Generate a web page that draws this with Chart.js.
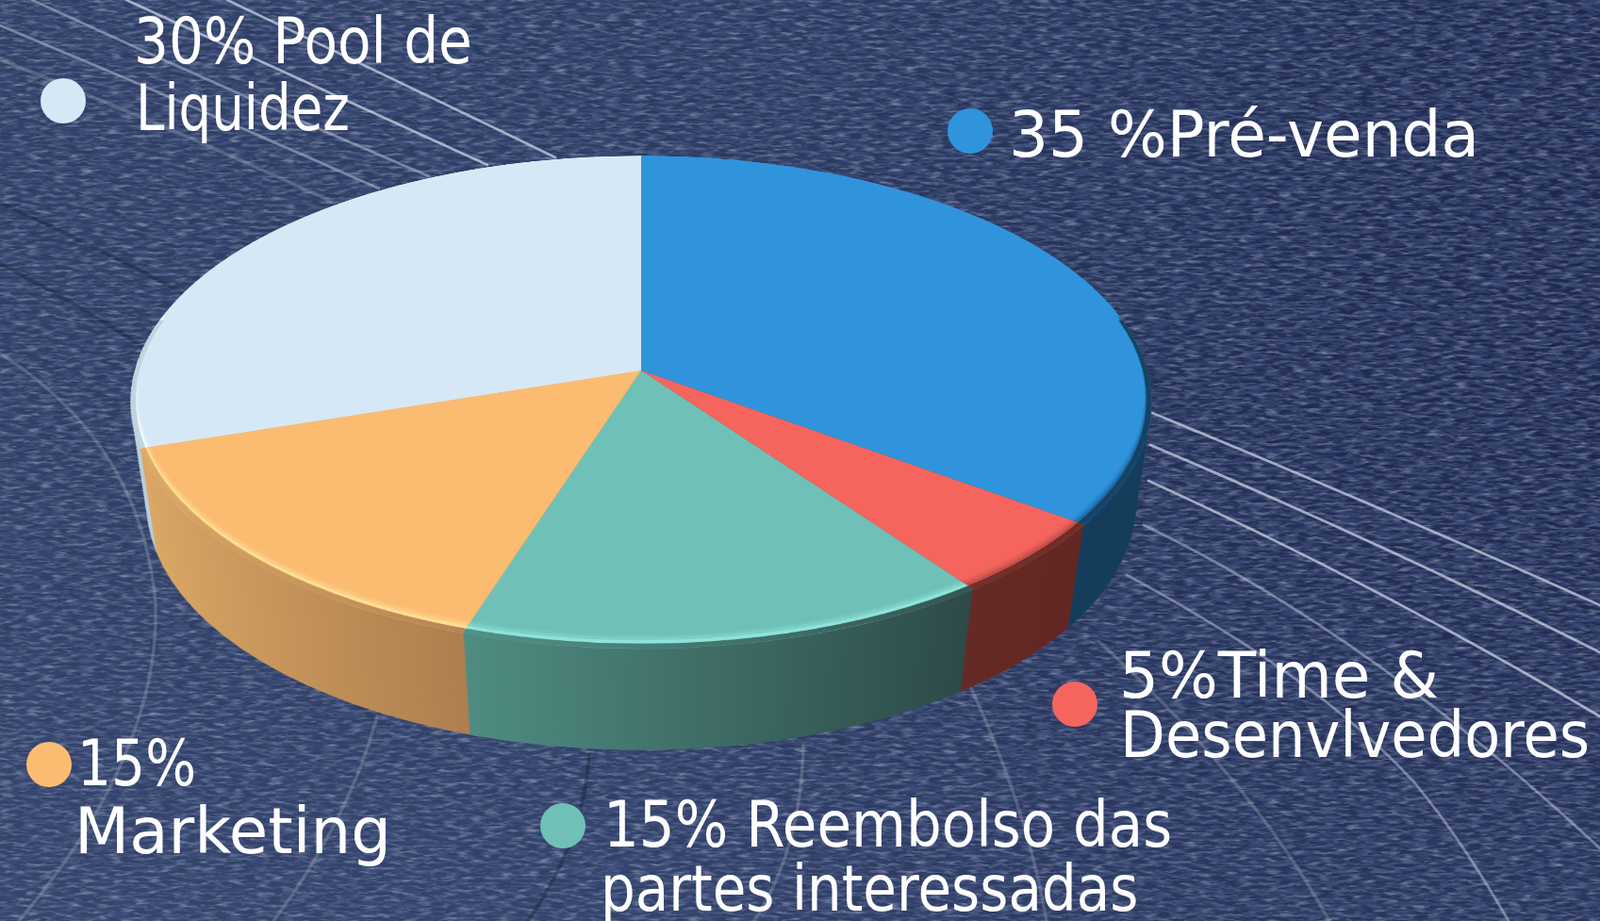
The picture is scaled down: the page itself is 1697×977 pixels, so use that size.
<!DOCTYPE html>
<html lang="pt">
<head>
<meta charset="utf-8">
<title>Tokenomics</title>
<script src="https://cdn.jsdelivr.net/npm/chart.js@4"></script>
<style>
html,body{margin:0;padding:0;width:1697px;height:977px;overflow:hidden;background:#2b3a63}
#stage{position:relative;width:1697px;height:977px;overflow:hidden;
 background:linear-gradient(100deg,#2f3e64 0%,#2b3960 45%,#1f2a50 80%,#1c264c 100%)}
#stage:before{content:"";position:absolute;inset:0;background:linear-gradient(180deg,rgba(0,0,0,0) 45%,rgba(70,88,130,.25) 100%)}
svg{position:absolute;left:0;top:0}
#pie{position:absolute;left:-70px;top:-357px;width:1500px;height:1500px;transform-origin:50% 50%;
 transform:perspective(3661px) rotateX(61.4deg)}
.t{position:absolute;white-space:pre;color:#fff;font-family:"DejaVu Sans",sans-serif;transform-origin:0 0}
.d{position:absolute;border-radius:50%}
</style>
</head>
<body>
<div id="stage">
<svg width="1697" height="977" viewBox="0 0 1697 977">
 <defs>
  <filter id="weave" x="0" y="0" width="100%" height="100%">
   <feTurbulence type="fractalNoise" baseFrequency="0.07 0.30" numOctaves="3" seed="7"/>
   <feColorMatrix type="matrix" values="0 0 0 0 .47  0 0 0 0 .54  0 0 0 0 .72  2.4 0 0 0 -1.02"/>
  </filter>
  <filter id="weave2" x="0" y="0" width="100%" height="100%">
   <feTurbulence type="fractalNoise" baseFrequency="0.05 0.26" numOctaves="3" seed="21"/>
   <feColorMatrix type="matrix" values="0 0 0 0 .04  0 0 0 0 .07  0 0 0 0 .19  3 0 0 0 -1.2"/>
  </filter>
 </defs>
 <rect width="1697" height="977" filter="url(#weave)" opacity=".55"/>
 <rect width="1697" height="977" filter="url(#weave2)" opacity=".75"/>
 <g fill="none" stroke-linecap="round">
  <g stroke="#cfd5e6" stroke-opacity=".72" stroke-width="2.8">
   <path d="M1222 438 Q1470 540 1697 642"/>
   <path d="M1220 472 Q1470 578 1697 692"/>
   <path d="M1218 510 Q1460 620 1697 760"/>
   <path d="M241 0 Q420 85 589 167"/>
   <path d="M134 0 Q330 90 517 175"/>
  </g>
  <g stroke="#bcc5da" stroke-opacity=".5" stroke-width="2.8">
   <path d="M1213 557 Q1450 670 1697 900"/>
   <path d="M1195 610 Q1400 720 1500 830 Q1550 890 1600 977"/>
   <path d="M34 0 Q240 95 455 187"/>
   <path d="M0 27 Q200 110 402 200"/>
  </g>
  <g stroke="#aab1b8" stroke-opacity=".3" stroke-width="3.5">
   <path d="M0 63 Q170 130 348 212"/>
   <path d="M0 375 Q150 470 165 640 Q170 800 20 977"/>
   <path d="M400 760 Q370 870 290 977"/>
   <path d="M1030 730 Q1090 860 1110 977"/>
   <path d="M1165 680 Q1330 830 1410 977"/>
   <path d="M852 790 Q850 900 800 977"/>
  </g>
  <g stroke="#0c1226" stroke-opacity=".3" stroke-width="4">
   <path d="M0 215 Q120 270 230 330"/>
   <path d="M0 280 Q80 320 170 380"/>
   <path d="M625 800 Q620 890 560 977"/>
  </g>
 </g>
</svg>
<canvas id="pie" width="1500" height="1500"></canvas>
</div>
<script>
// ---- chart data ----
const categories = ["Pré-venda", "Time & Desenvolvedores", "Reembolso das partes interessadas", "Marketing", "Pool de Liquidez"];
const shares     = [35, 5, 15, 15, 30];
const topColors  = ["#3094dc", "#f5655e", "#6fc1b8", "#fbbc72", "#d6e8f5"];
const rimColors  = ["#1d6aa6", "#c44f49", "#8fe6da", "#ffdf95", "#ffffff"];
const sideFrom   = ["#133b5a", "#662a25", "#4f8c82", "#daa764", "#b9cfdc"];
const sideTo     = ["#143d5c", "#622722", "#2d4a47", "#ae7f4f", "#b9cfdc"];
// ---- label text, one row per line ----
const labelLines = ["30% Pool de", "Liquidez", "35 %Pré-venda", "5%Time &", "Desenvlvedores", "15%", "Marketing", "15% Reembolso das", "partes interessadas"];

// layout only
const linePos = [[147,497,67],[149,367,138],[1075,1565,166],[1192,1522,740],[1193,1682,803],[87,204,833],[84,411,905],[645,1239,898],[642,1203,966]];
const dotPos  = [[1029,139,0],[1140,747,1],[597,876,2],[52,811,3],[67,107,4]];
const FS = 67, DOT = 24;
const stage = document.getElementById('stage');
const meas = document.createElement('canvas').getContext('2d');
meas.font = FS + 'px "DejaVu Sans"';
labelLines.forEach((txt,i)=>{
  const [x0,x1,base] = linePos[i];
  const el = document.createElement('div');
  el.className = 't'; el.textContent = txt;
  el.style.fontSize = FS+'px';
  el.style.left = (x0-5)+'px';
  el.style.top = (base - 0.928*FS)+'px';
  el.style.lineHeight = 'normal';
  el.style.transform = 'scaleX('+((x1-x0+9)/meas.measureText(txt).width).toFixed(3)+')';
  stage.appendChild(el);
});
dotPos.forEach(([x,y,c])=>{
  const el = document.createElement('div');
  el.className='d';
  el.style.cssText += `left:${x-DOT}px;top:${y-DOT}px;width:${2*DOT}px;height:${2*DOT}px;background:${topColors[c]}`;
  stage.appendChild(el);
});

// projection constants of the tilted disc
const TILT = 61.4*Math.PI/180, PERSP = 3661, R = 537, DEPTH = 108;
const C = Math.cos(TILT), S = Math.sin(TILT);
const unproject = Y => Y/(C + Y*S/PERSP);
const TOPY = -227.4, BOTY = 294.6, HALFW = 541;
let sideFills = [];

const extrude = {
  id:'extrude',
  beforeDatasetsDraw(chart){
    const ctx = chart.ctx, arcs = chart.getDatasetMeta(0).data;
    sideFills = arcs.map((a,i)=>{
      const p = a.getProps(['x','startAngle','endAngle','outerRadius']);
      const xs = [p.startAngle,p.endAngle].map(t=>p.x+p.outerRadius*Math.cos(t));
      const g = ctx.createLinearGradient(Math.min(...xs),0,Math.max(...xs),0);
      g.addColorStop(0,sideFrom[i]); g.addColorStop(1,sideTo[i]);
      return g;
    });
    for(let t=DEPTH;t>=0;t-=1){
      const yb=unproject(BOTY+t), yt=unproject(TOPY+t);
      const d=(yb+yt)/2, ry=(yb-yt)/2;
      const W=HALFW*(1-0.03*t/DEPTH);
      const rx=W*(1-d*S/PERSP)/1.0084;
      arcs.forEach((a,i)=>{
        const p=a.getProps(['x','y','startAngle','endAngle','outerRadius']);
        ctx.save();
        ctx.translate(p.x,p.y+d);
        ctx.scale(rx/p.outerRadius,ry/p.outerRadius);
        ctx.translate(-p.x,-p.y);
        ctx.beginPath();
        ctx.moveTo(p.x,p.y);
        ctx.arc(p.x,p.y,p.outerRadius,p.startAngle,p.endAngle);
        ctx.closePath();
        ctx.fillStyle=sideFills[i];
        ctx.fill();
        ctx.restore();
      });
    }
  },
  afterDatasetsDraw(chart){
    const ctx = chart.ctx, arcs = chart.getDatasetMeta(0).data;
    const lo=-12*Math.PI/180, hi=192*Math.PI/180;
    arcs.forEach((a,i)=>{
      const p=a.getProps(['x','y','startAngle','endAngle','outerRadius']);
      ctx.save();
      ctx.beginPath();
      ctx.moveTo(p.x,p.y);
      ctx.arc(p.x,p.y,p.outerRadius,p.startAngle,p.endAngle);
      ctx.closePath();
      ctx.clip();
      // bevel: thick at the front, tapering out toward the sides
      [[rimColors[i],5,.18,20],[rimColors[i],5,.4,16],[rimColors[i],6,.95,11],[sideFills[i],9,.9,4]].forEach(([col,w,al,inset])=>{
        ctx.globalAlpha=al;
        ctx.strokeStyle=col;
        ctx.lineWidth=w;
        ctx.beginPath();
        ctx.arc(p.x,p.y-inset*.85,p.outerRadius-inset*.15,lo,hi);
        ctx.stroke();
      });
      ctx.restore();
    });
  }
};

new Chart(document.getElementById('pie'),{
  type:'pie',
  data:{labels:categories,datasets:[{data:shares,backgroundColor:topColors,borderWidth:0}]},
  options:{
    responsive:false,animation:false,radius:R,
    layout:{padding:0},
    plugins:{legend:{display:false},tooltip:{enabled:false}}
  },
  plugins:[extrude]
});
</script>
</body>
</html>
